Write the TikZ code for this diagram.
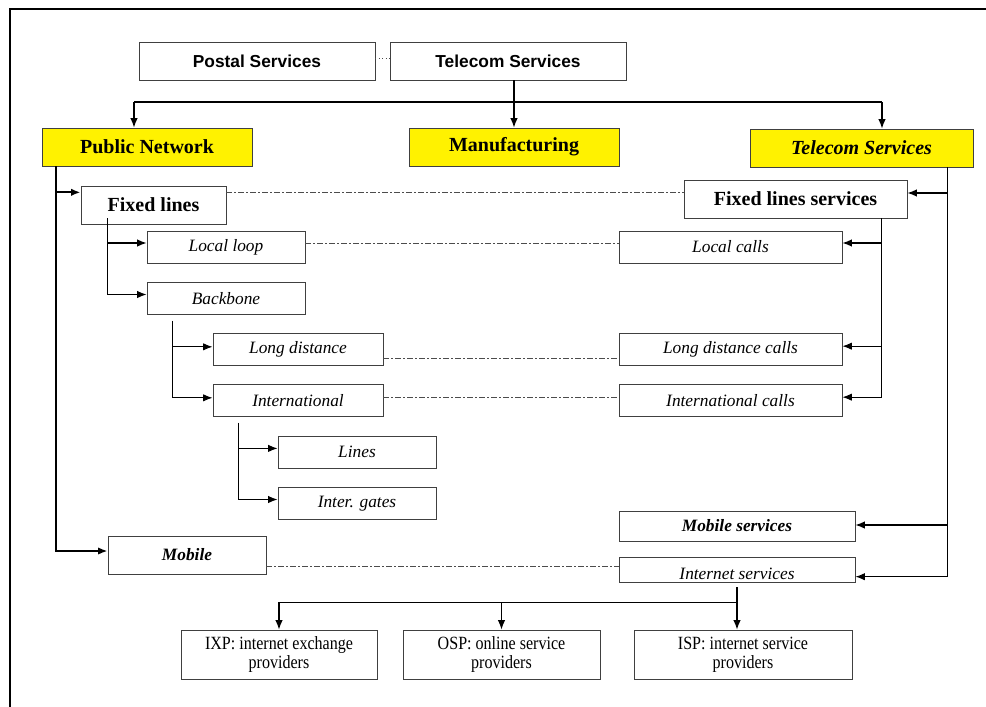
\documentclass[tikz,border=0pt]{standalone}
\usepackage{fontspec}
\setmainfont{Liberation Serif}
\newfontfamily\hdsans{Liberation Sans}
\newfontfamily\provserif[FakeStretch=0.86]{Liberation Serif}
\usepackage{tikz}
\usetikzlibrary{arrows.meta, positioning, calc}

\begin{document}
\begin{tikzpicture}[
    x=0.75pt, y=-0.75pt,
    box/.style={rectangle, draw=black!75, line width=0.7pt, inner sep=0pt,
                minimum height=24pt, fill=white},
    top/.style={box, minimum width=177pt, minimum height=28.5pt,
                font=\hdsans\bfseries\fontsize{13}{15}\selectfont},
    sector/.style={box, fill=yellow, minimum height=28.5pt,
                font=\bfseries\fontsize{15}{18}\selectfont},
    main/.style={box, minimum height=28.5pt,
                font=\bfseries\fontsize{15}{18}\selectfont},
    sub/.style={box, font=\itshape\fontsize{13}{15}\selectfont},
    prov/.style={box, minimum height=36.75pt, align=center,
                font=\provserif\fontsize{14}{14}\selectfont},
    arr/.style={-{Latex[length=7pt,width=5.5pt]}, line width=0.8pt},
    thkarr/.style={arr, line width=1.5pt},
    link/.style={draw=black!70, line width=0.6pt,
                dash pattern=on 4pt off 2pt on 1pt off 2pt}
]
\useasboundingbox (0,0) rectangle (986,707);
\draw[line width=2.2pt] (10,707) -- (10,9) -- (986,9);

\node[top] (postal)  at (257,61) {Postal Services};
\node[top] (telecom) at (508,61) {Telecom Services};

\node[sector, minimum width=157.5pt] (pubnet)  at (147,147) {Public Network};
\node[sector, minimum width=157.5pt] (manuf)   at (514,147) {Manufacturing};
\node[sector, minimum width=167.25pt, font=\bfseries\itshape\fontsize{15}{18}\selectfont]
    (telserv) at (861.5,148) {Telecom Services};

\node[main, minimum width=108.75pt] (fixed)   at (153.5,205) {Fixed lines};
\node[main, minimum width=167.25pt] (fixserv) at (795.5,199) {Fixed lines services};

\node[sub, minimum width=118.5pt] (loop)     at (226,247)   {Local loop};
\node[sub, minimum width=118.5pt] (backbone) at (226,298.5) {Backbone};
\node[sub, minimum width=127.5pt] (longd)    at (298,349.5) {Long distance};
\node[sub, minimum width=127.5pt] (intl)     at (298,400.5) {International};
\node[sub, minimum width=118.5pt] (lines)    at (357,452)   {Lines};
\node[sub, minimum width=118.5pt] (gates)    at (357,503.5) {Inter. gates};
\node[sub, minimum width=118.5pt, minimum height=28.5pt, font=\bfseries\itshape\fontsize{13}{15}\selectfont]
    (mobile) at (187,555) {Mobile};

\node[sub, minimum width=167.25pt] (localc) at (730.5,247)   {Local calls};
\node[sub, minimum width=167.25pt] (longc)  at (730.5,349.5) {Long distance calls};
\node[sub, minimum width=167.25pt] (intlc)  at (730.5,400.5) {International calls};
\node[sub, minimum width=177pt, minimum height=22.5pt, font=\bfseries\itshape\fontsize{13}{15}\selectfont]
    (mobserv) at (737,526) {Mobile services};
\node[sub, minimum width=177pt, minimum height=18.75pt, text height=15pt, text depth=0pt]
    (netserv) at (737,569.5) {Internet services};

\node[prov, minimum width=147pt]   (ixp) at (279,654.5)   {IXP: internet exchange\\providers};
\node[prov, minimum width=147.75pt] (osp) at (501.5,654.5) {OSP: online service\\providers};
\node[prov, minimum width=163.5pt] (isp) at (743,654.5)   {ISP: internet service\\providers};

\draw[dotted, draw=black!70, line width=0.6pt] ([yshift=2pt]postal.east) -- ([yshift=2pt]telecom.west);
\draw[arr] (manuf.north |- telecom.south) -- (manuf.north);
\coordinate (tl) at (134,102);
\coordinate (tr) at (882,102);
\draw[line width=0.8pt] (tl) -- (tr);
\draw[arr] (tl) -- (tl |- pubnet.north);
\draw[arr] (tr) -- (tr |- telserv.north);

\coordinate (lt) at ([xshift=10.5pt]pubnet.south west);
\draw[thkarr] (lt) |- ([yshift=9.5pt]fixed.west);
\draw[thkarr] (lt) |- ([yshift=3pt]mobile.west);

\coordinate (ft) at ([shift={(20.25pt,4.5pt)}]fixed.south west);
\draw[arr] (ft) |- ([yshift=3pt]loop.west);
\draw[arr] (ft) |- ([yshift=3pt]backbone.west);
\coordinate (bt) at ([shift={(19.5pt,-4.5pt)}]backbone.south west);
\draw[arr] (bt) |- ([yshift=2pt]longd.west);
\draw[arr] (bt) |- ([yshift=2pt]intl.west);
\coordinate (it) at ([shift={(19.5pt,-4.5pt)}]intl.south west);
\draw[arr] (it) |- ([yshift=2.7pt]lines.west);
\draw[arr] (it) |- ([yshift=3pt]gates.west);

\coordinate (rt) at ([xshift=-19.5pt]telserv.south east);
\draw[arr] (rt) |- ([yshift=4.5pt]fixserv.east);
\draw[arr] (rt) |- ([yshift=0.75pt]mobserv.east);
\draw[arr] (rt) |- ([yshift=-5.4pt]netserv.east);

\coordinate (fs) at ([xshift=-19.5pt]fixserv.south east);
\draw[arr] (fs) |- ([yshift=3pt]localc.east);
\draw[arr] (fs) |- ([yshift=2.5pt]longc.east);
\draw[arr] (fs) |- ([yshift=2.5pt]intlc.east);

\coordinate (fl) at ([yshift=9.2pt]fixed.east);
\draw[link] (fl) -- (fl -| fixserv.west);
\coordinate (ll) at ([yshift=2.8pt]loop.east);
\draw[link] (ll) -- (ll -| localc.west);
\coordinate (dl) at ([yshift=-6.9pt]longd.east);
\draw[link] (dl) -- (dl -| longc.west);
\coordinate (il) at ([yshift=2.1pt]intl.east);
\draw[link] (il) -- (il -| intlc.west);
\coordinate (ml) at ([yshift=-8.25pt]mobile.east);
\draw[link] (ml) -- (ml -| netserv.west);

\coordinate (nd) at ([yshift=-3.75pt]netserv.south);
\coordinate (nj) at ([yshift=-15pt]netserv.south);
\draw[arr] (nd) -- (nd |- isp.north);
\draw[arr] (nj) -| (ixp.north);
\draw[arr] (osp.north |- nj) -- (osp.north);
\end{tikzpicture}
\end{document}
